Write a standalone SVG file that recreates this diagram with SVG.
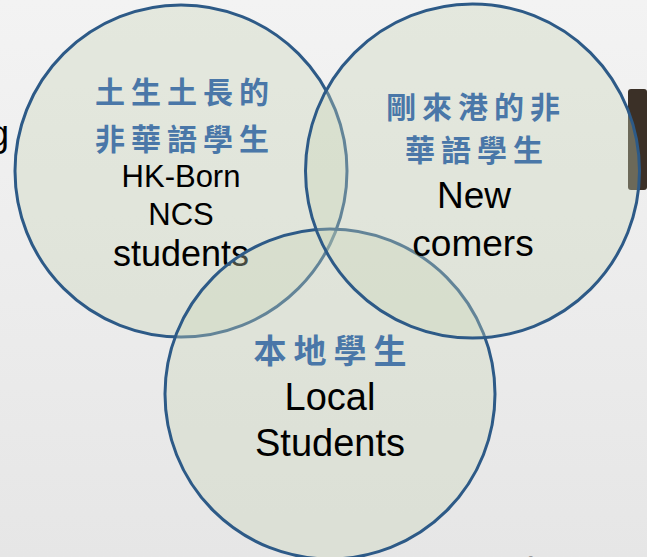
<svg xmlns="http://www.w3.org/2000/svg" width="647" height="557" viewBox="0 0 647 557">
<defs>
<linearGradient id="bg" x1="0" y1="0" x2="0" y2="1">
<stop offset="0" stop-color="#f3f3f3"/>
<stop offset="1" stop-color="#e6e6e6"/>
</linearGradient>
</defs>
<style>
.c{fill:#c9d3b6;fill-opacity:0.35;stroke:#2d5a87;stroke-width:3}
.zh{font-family:"Noto Sans CJK TC","Noto Sans CJK SC",sans-serif;font-weight:700;fill:#4a77a8;text-anchor:middle}
.en{font-family:"Liberation Sans",Arial,sans-serif;fill:#000;text-anchor:middle}
</style>
<rect width="647" height="557" fill="url(#bg)"/>
<text x="9" y="146" font-family="Liberation Sans, Arial, sans-serif" font-size="36" text-anchor="end" fill="#000">g</text>
<rect x="628" y="89" width="19" height="101" rx="3" fill="#3b3027"/>
<text x="528" y="564" font-family="Liberation Sans, Arial, sans-serif" font-size="10" fill="#888">8</text>
<g id="left">
<circle class="c" cx="181" cy="171" r="166"/>
<text class="zh" font-size="30" letter-spacing="6" x="185" y="103">土生土長的</text>
<text class="zh" font-size="30" letter-spacing="6" x="185" y="150">非華語學生</text>
<text class="en" font-size="31" x="181" y="187">HK-Born</text>
<text class="en" font-size="31" x="181" y="225">NCS</text>
<text class="en" font-size="36" x="181" y="266">students</text>
</g>
<g id="bottom">
<circle class="c" cx="330" cy="394" r="165"/>
<text class="zh" font-size="33" letter-spacing="7" x="333.5" y="363">本地學生</text>
<text class="en" font-size="38" x="330" y="410">Local</text>
<text class="en" font-size="38" x="330" y="456">Students</text>
</g>
<g id="right">
<circle class="c" cx="472.5" cy="171" r="167"/>
<text class="zh" font-size="30" letter-spacing="6" x="476" y="118">剛來港的非</text>
<text class="zh" font-size="30" letter-spacing="6" x="477" y="161">華語學生</text>
<text class="en" font-size="37" x="474" y="208">New</text>
<text class="en" font-size="37" x="473" y="256">comers</text>
</g>
<g id="connectors"/>
</svg>
